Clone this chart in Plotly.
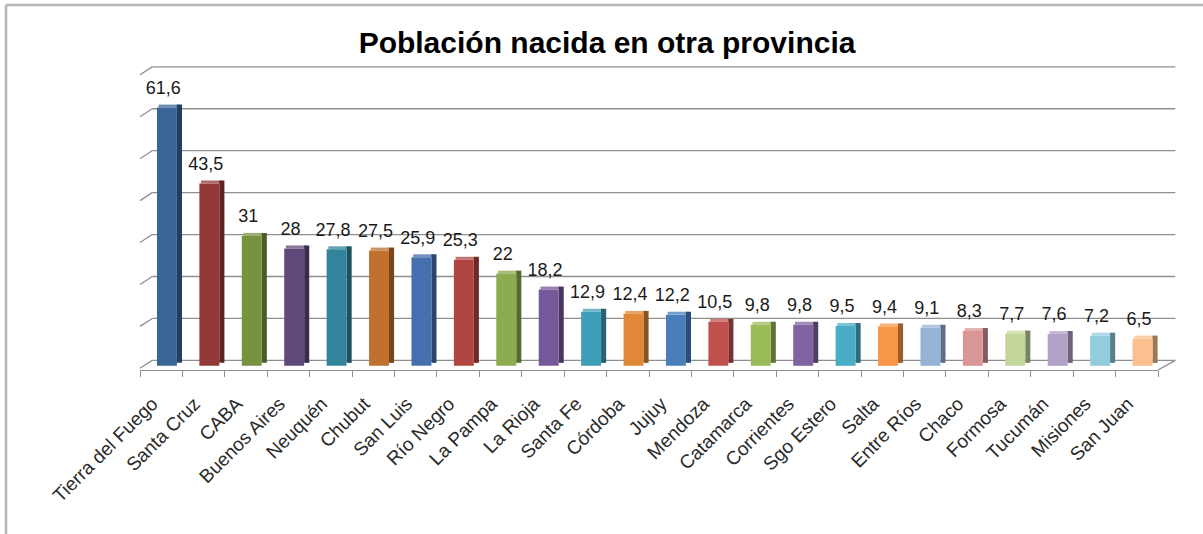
import plotly.graph_objects as go

provincias = ["Tierra del Fuego", "Santa Cruz", "CABA", "Buenos Aires", "Neuquén", "Chubut",
              "San Luis", "Río Negro", "La Pampa", "La Rioja", "Santa Fe", "Córdoba",
              "Jujuy", "Mendoza", "Catamarca", "Corrientes", "Sgo Estero", "Salta",
              "Entre Ríos", "Chaco", "Formosa", "Tucumán", "Misiones", "San Juan"]
valores = [61.6, 43.5, 31, 28, 27.8, 27.5, 25.9, 25.3, 22, 18.2, 12.9, 12.4,
           12.2, 10.5, 9.8, 9.8, 9.5, 9.4, 9.1, 8.3, 7.7, 7.6, 7.2, 6.5]
colores = ["#3A6496", "#933A38", "#779340", "#5F497A", "#31849B", "#C0712F",
           "#4670AD", "#B04542", "#8CAA4E", "#74589A", "#3F9EB8", "#E08838",
           "#4A7EBB", "#C0504D", "#9BBB59", "#8064A2", "#4BACC6", "#F79646",
           "#95B3D7", "#D99694", "#C3D69B", "#B2A1C7", "#93CDDD", "#FAC08F"]
grid_vals = [0, 10, 20, 30, 40, 50, 60, 70]

FONT = "Liberation Sans, Arial, sans-serif"
GRID = "#8f8f8f"


def shade(hexc, f):
    h = hexc.lstrip("#")
    r, g, b = (int(h[i:i + 2], 16) for i in (0, 2, 4))
    if f <= 1:
        r, g, b = r * f, g * f, b * f
    else:
        t = f - 1
        r, g, b = r + (255 - r) * t, g + (255 - g) * t, b + (255 - b) * t
    return "#%02X%02X%02X" % (int(r), int(g), int(b))


def fmt(v):
    return ("%g" % v).replace(".", ",")


lados = [shade(c, 0.62) for c in colores]
topes = [shade(c, 1.25) for c in colores]

fig = go.Figure()
# top face (3D look)
fig.add_trace(go.Bar(
    x=provincias, y=[0.7] * len(valores), base=valores,
    width=0.47, offset=-0.06,
    marker=dict(color=topes, line=dict(width=0)),
    hoverinfo="skip", showlegend=False))
# side face (3D look)
fig.add_trace(go.Bar(
    x=provincias, y=valores, base=0.7,
    width=0.12, offset=0.37,
    marker=dict(color=lados, line=dict(width=0)),
    hoverinfo="skip", showlegend=False))
# front face
fig.add_trace(go.Bar(
    x=provincias, y=valores,
    width=0.47, offset=-0.10,
    marker=dict(color=colores, line=dict(width=0)),
    showlegend=False))
# data labels
fig.add_trace(go.Bar(
    x=provincias, y=[v + 1.6 for v in valores],
    width=0.6, offset=-0.25,
    marker=dict(color="rgba(0,0,0,0)", line=dict(width=0)),
    text=[fmt(v) for v in valores], textposition="outside",
    textfont=dict(family=FONT, size=18, color="#1a1a1a"),
    constraintext="none", cliponaxis=False, hoverinfo="skip", showlegend=False))

shapes = []
# back-wall gridlines (shifted for 3D perspective)
for g in grid_vals:
    shapes.append(dict(type="line", layer="below", xref="x domain", yref="y",
                       x0=0.012, x1=1.017, y0=g + 1.3, y1=g + 1.3,
                       line=dict(color=GRID, width=1.3)))
    shapes.append(dict(type="line", layer="below", xref="x domain", yref="y",
                       x0=0.0, x1=0.012, y0=g - 0.6, y1=g + 1.3,
                       line=dict(color=GRID, width=1.3)))
# floor right diagonal
shapes.append(dict(type="line", layer="below", xref="x domain", yref="y",
                   x0=1.0, x1=1.017, y0=-1, y1=1.3,
                   line=dict(color=GRID, width=1.3)))
# chart border (top and left)
shapes.append(dict(type="line", xref="paper", yref="paper",
                   xsizemode="pixel", xanchor=0, ysizemode="pixel", yanchor=1,
                   x0=-134, x1=1100, y0=61, y1=61,
                   line=dict(color="#b5b5b5", width=2.5)))
shapes.append(dict(type="line", xref="paper", yref="paper",
                   xsizemode="pixel", xanchor=0, ysizemode="pixel", yanchor=1,
                   x0=-134, x1=-134, y0=61, y1=-600,
                   line=dict(color="#b5b5b5", width=2.5)))

fig.update_layout(
    width=1203, height=534,
    margin=dict(l=140, r=45, t=66, b=164),
    paper_bgcolor="white", plot_bgcolor="rgba(0,0,0,0)",
    barmode="overlay",
    title=dict(text="<b>Población nacida en otra provincia</b>",
               xref="container", x=0.5046, xanchor="center",
               yref="container", y=0.921, yanchor="middle",
               font=dict(family=FONT, size=30, color="#000")),
    font=dict(family=FONT, color="#222"),
    shapes=shapes,
)
fig.update_xaxes(
    range=[-0.5, len(provincias) - 0.5], showgrid=False,
    showline=True, linecolor=GRID, linewidth=1.3,
    ticks="outside", tickson="boundaries", ticklen=6, tickcolor=GRID,
    tickangle=-45, tickfont=dict(family=FONT, size=19, color="#2a2a2a"),
    ticklabelshift=-9, ticklabelstandoff=14,
)
fig.update_yaxes(range=[-1, 71.5], showgrid=False, zeroline=False,
                 showticklabels=False, showline=False, ticks="")

fig.write_html("out.html", config={"displayModeBar": False},
               post_script="document.body.style.margin='0';")
